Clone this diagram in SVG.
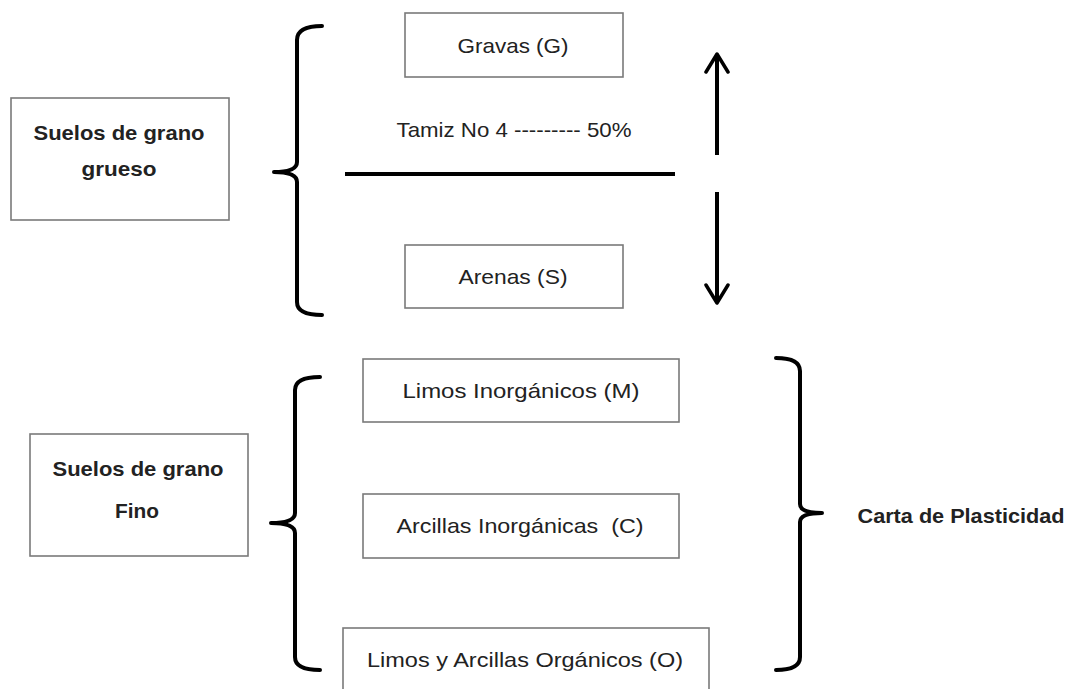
<svg xmlns="http://www.w3.org/2000/svg" width="1081" height="689" viewBox="0 0 1081 689">
<style>
.box{fill:#fff;stroke:#7a7a7a;stroke-width:1.6}
.t{font-family:"Liberation Sans",Arial,sans-serif;font-size:21px;fill:#222;text-anchor:middle;white-space:pre}
.b{font-weight:bold}
.brace{fill:none;stroke:#000;stroke-width:4;stroke-linecap:round;stroke-linejoin:round}
.ln{stroke:#000;stroke-width:4;fill:none}
</style>
<defs>
<marker id="ah" viewBox="0 0 24 26" refX="21" refY="13" markerWidth="24" markerHeight="26" markerUnits="userSpaceOnUse" orient="auto-start-reverse">
<path d="M3,2 L21,13 L3,24" fill="none" stroke="#000" stroke-width="3.5" stroke-linecap="round" stroke-linejoin="round"/>
</marker>
</defs>
<rect width="1081" height="689" fill="#fff"/>
<g id="grueso">
<rect class="box" x="11" y="98" width="218" height="122"/>
<text class="t b" x="119" y="140" textLength="171" lengthAdjust="spacingAndGlyphs">Suelos de grano</text>
<text class="t b" x="119" y="176" textLength="75" lengthAdjust="spacingAndGlyphs">grueso</text>
</g>
<g id="gravas">
<rect class="box" x="405" y="13" width="218" height="64"/>
<text class="t" x="513" y="53" textLength="111" lengthAdjust="spacingAndGlyphs">Gravas (G)</text>
</g>
<g id="tamiz">
<text class="t" x="514" y="137" textLength="235" lengthAdjust="spacingAndGlyphs">Tamiz No 4 --------- 50%</text>
</g>
<g id="arenas">
<rect class="box" x="405" y="245" width="218" height="63"/>
<text class="t" x="513" y="284" textLength="109" lengthAdjust="spacingAndGlyphs">Arenas (S)</text>
</g>
<g id="fino">
<rect class="box" x="30" y="434" width="218" height="122"/>
<text class="t b" x="138" y="476" textLength="171" lengthAdjust="spacingAndGlyphs">Suelos de grano</text>
<text class="t b" x="137" y="518" textLength="44" lengthAdjust="spacingAndGlyphs">Fino</text>
</g>
<g id="limos">
<rect class="box" x="363" y="359" width="316" height="63"/>
<text class="t" x="521" y="398" textLength="237" lengthAdjust="spacingAndGlyphs">Limos Inorgánicos (M)</text>
</g>
<g id="arcillas">
<rect class="box" x="363" y="494" width="316" height="64"/>
<text class="t" x="520" y="533" textLength="247" lengthAdjust="spacingAndGlyphs">Arcillas Inorgánicas  (C)</text>
</g>
<g id="organicos">
<rect class="box" x="343" y="628" width="366" height="70"/>
<text class="t" x="525" y="667" textLength="316" lengthAdjust="spacingAndGlyphs">Limos y Arcillas Orgánicos (O)</text>
</g>
<g id="carta">
<text class="t b" x="961" y="523" textLength="207" lengthAdjust="spacingAndGlyphs">Carta de Plasticidad</text>
</g>
<g id="connectors">
<path class="brace" d="M322,26 Q297,26 297,40 L297,162 Q297,172 274,172 Q297,172 297,182 L297,302 Q297,315 322,315"/>
<path class="brace" d="M320,377 Q295,377 295,390 L295,513 Q295,523 271,523 Q295,523 295,533 L295,657 Q295,670 320,670"/>
<path class="brace" d="M776,358 Q800,358 800,371 L800,504 Q800,513 822,513 Q800,513 800,522 L800,657 Q800,670 776,670"/>
<line class="ln" x1="345" y1="174" x2="675" y2="174"/>
<line class="ln" x1="717" y1="155" x2="717" y2="54" marker-end="url(#ah)"/>
<line class="ln" x1="717" y1="192" x2="717" y2="303" marker-end="url(#ah)"/>
</g>
</svg>
